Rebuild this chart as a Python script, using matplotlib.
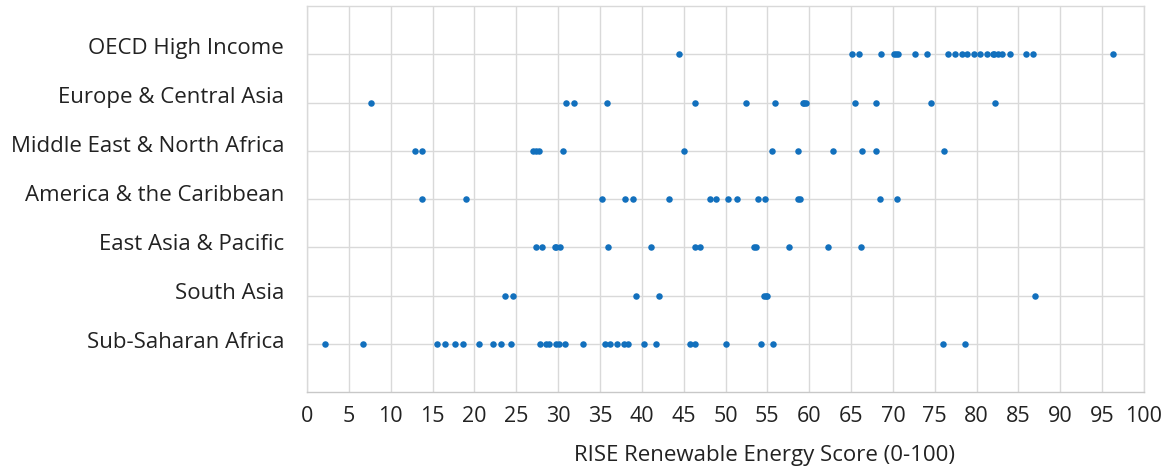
import matplotlib
matplotlib.use("Agg")
import matplotlib.pyplot as plt
import matplotlib.transforms as mtransforms

regions = [
    "OECD High Income",
    "Europe & Central Asia",
    "Middle East & North Africa",
    "America & the Caribbean",
    "East Asia & Pacific",
    "South Asia",
    "Sub-Saharan Africa",
]

oecd = [44.5, 65.1, 65.9, 68.6, 70.1, 70.4, 70.6, 72.6, 74.1, 76.6, 77.4, 78.2,
        78.8, 79.7, 80.4, 81.2, 81.9, 82.1, 82.5, 83.0, 84.0, 85.9, 86.7, 96.3]
europe = [7.7, 30.9, 31.9, 35.9, 46.4, 52.5, 55.9, 59.2, 59.4, 59.6, 65.5, 68.0,
          74.6, 82.2]
mena = [12.9, 13.7, 27.0, 27.4, 27.7, 30.6, 45.0, 55.5, 58.7, 62.9, 66.3, 68.0, 76.1]
america = [13.7, 19.0, 35.3, 38.0, 39.0, 43.3, 48.2, 48.9, 50.3, 51.4, 53.9, 54.7,
           58.7, 58.9, 68.5, 70.5]
eap = [27.3, 28.1, 29.6, 29.8, 30.2, 36.0, 41.1, 46.4, 47.0, 53.4, 53.6, 57.6,
       62.3, 66.2]
south_asia = [23.6, 24.6, 39.3, 42.1, 54.6, 54.8, 55.0, 87.0]
ssa = [2.1, 6.7, 15.5, 16.5, 17.7, 18.6, 20.6, 22.2, 23.2, 24.4, 27.8, 28.5, 28.9,
       29.7, 30.1, 30.8, 33.0, 35.6, 36.2, 37.0, 37.9, 38.4, 40.3, 41.7, 45.7, 46.4,
       50.1, 54.2, 55.7, 76.0, 78.6]

series = [oecd, europe, mena, america, eap, south_asia, ssa]
xticks = list(range(0, 101, 5))
x_label = "RISE Renewable Energy Score (0-100)"

plt.rcParams["font.family"] = ["Open Sans", "DejaVu Sans"]

fig = plt.figure(figsize=(11.76, 4.68), dpi=100)
ax = fig.add_axes([307 / 1176, 1 - 392 / 468, (1144 - 307) / 1176, (392 - 6) / 468])

dot_color = "#1270BD"
for i, vals in enumerate(series):
    ax.scatter(vals, [i] * len(vals), s=22, color=dot_color, linewidths=0, zorder=3)

ax.set_xlim(0, 100)
ax.set_ylim(7, -1)
ax.set_xticks(xticks)
ax.set_xticklabels([str(t) for t in xticks])
ax.set_yticks(range(len(regions)))
ax.set_yticklabels(regions)

grid_color = "#d9d9d9"
ax.grid(True, color=grid_color, linewidth=1.0, zorder=0)
ax.set_axisbelow(True)
for s in ax.spines.values():
    s.set_color(grid_color)
    s.set_linewidth(1.0)
ax.spines["bottom"].set_color("#c8c8c8")

text_color = "#222222"
ax.tick_params(axis="both", length=0, labelcolor=text_color)
ax.tick_params(axis="y", pad=16.5, labelsize=16)
ax.tick_params(axis="x", pad=10, labelsize=15.5)

# category labels in the reference sit a little above their rows
for i, lab in enumerate(ax.get_yticklabels()):
    shift_px = 8.0 - 0.75 * i
    lab.set_transform(lab.get_transform() +
                      mtransforms.ScaledTranslation(0, shift_px / 100, fig.dpi_scale_trans))

ax.set_xlabel(x_label, fontsize=16, color=text_color)
ax.xaxis.set_label_coords((765 - 307) / (1144 - 307), -(455 - 392) / 386, transform=ax.transAxes)
ax.xaxis.label.set_verticalalignment("center")

fig.savefig("out.png", dpi=100)
